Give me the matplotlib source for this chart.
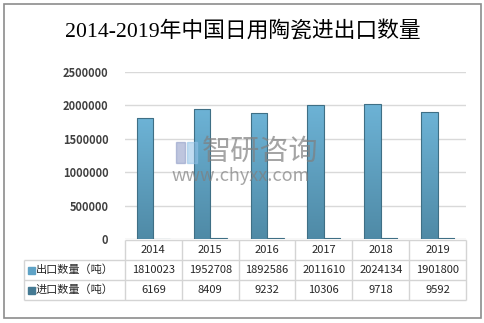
import numpy as np
import matplotlib.pyplot as plt
from matplotlib.patches import Rectangle
from matplotlib.colors import LinearSegmentedColormap

plt.rcParams['font.family'] = ['Noto Sans CJK SC', 'DejaVu Sans']

years = ['2014', '2015', '2016', '2017', '2018', '2019']
export_qty = [1810023, 1952708, 1892586, 2011610, 2024134, 1901800]
import_qty = [6169, 8409, 9232, 10306, 9718, 9592]
series_names = ['出口数量（吨）', '进口数量（吨）']
yticks = [0, 500000, 1000000, 1500000, 2000000, 2500000]

W, H = 485, 323
fig = plt.figure(figsize=(W / 100, H / 100), dpi=100)

# outer frame
fig.patches.append(Rectangle((4 / W, 5 / H), 477 / W, 314 / H, transform=fig.transFigure,
                             fill=False, edgecolor='#8c8c8c', lw=1.2))

fig.text(243 / W, 1 - 31 / H, '2014-2019年中国日用陶瓷进出口数量', ha='center', va='center',
         fontsize=15.7, color='black', family=['Liberation Serif', 'Noto Sans CJK SC'])

x0, x1 = 125, 466
ax = fig.add_axes([x0 / W, 1 - 239 / H, (x1 - x0) / W, (239 - 72) / H])
ax.set_yticks(yticks)
ax.set_yticklabels([str(v) for v in yticks], fontsize=8, color='#404040', fontweight='bold')
ax.tick_params(axis='y', length=0, pad=12)
ax.set_xticks([])
for s in ax.spines.values():
    s.set_visible(False)
ax.grid(axis='y', color='#d9d9d9', lw=1)
ax.set_axisbelow(True)

light = LinearSegmentedColormap.from_list('exp', ['#4f8aa6', '#6db3d6'])
dark = LinearSegmentedColormap.from_list('imp', ['#3c6a80', '#4f89a4'])
grad = np.linspace(0, 1, 256).reshape(-1, 1)

x = np.arange(len(years))
bw = 0.29
bars_e = ax.bar(x - bw / 2, export_qty, bw, color='none', edgecolor='#3f6f85', lw=0.8, zorder=3)
bars_i = ax.bar(x + bw / 2, import_qty, bw, color='none', edgecolor='#3f6f85', lw=0.8, zorder=3)
for bars, cmap in ((bars_e, light), (bars_i, dark)):
    for b in bars:
        bx, by = b.get_x(), b.get_y()
        im = ax.imshow(grad, cmap=cmap, origin='lower', aspect='auto', zorder=2,
                       extent=[bx, bx + b.get_width(), by, by + b.get_height()])
        im.set_clip_path(b)
ax.set_xlim(-0.5, len(years) - 0.5)
ax.set_ylim(0, 2500000)

# watermark
fig.text(202 / W, 1 - 152 / H, '智研咨询', ha='left', va='center', fontsize=21,
         color='#7f7f7f', alpha=0.7, zorder=5)
fig.text(172 / W, 1 - 176 / H, 'www.chyxx.com', ha='left', va='center', fontsize=13,
         color='#7f7f7f', alpha=0.7, zorder=5)
fig.patches.append(Rectangle((176 / W, 1 - 163 / H), 9 / W, 21 / H, transform=fig.transFigure,
                             color='#8a96c4', alpha=0.55, zorder=5))
fig.patches.append(Rectangle((187 / W, 1 - 163 / H), 10 / W, 21 / H, transform=fig.transFigure,
                             color='#8fc0e6', alpha=0.55, zorder=5))

# data table below the plot
tab = fig.add_axes([0, 0, 1, 1], facecolor='none')
tab.set_xlim(0, W)
tab.set_ylim(H, 0)
tab.axis('off')
gc = '#d4d4d4'
col_x = np.linspace(x0, x1, len(years) + 1)
rows_y = [240, 260, 280, 300]
tab.hlines(rows_y[0], x0, x1, color=gc, lw=1)
tab.hlines(rows_y[1:], 24, x1, color=gc, lw=1)
tab.vlines(col_x, rows_y[0], rows_y[-1], color=gc, lw=1)
tab.vlines(24, rows_y[1], rows_y[-1], color=gc, lw=1)
for i, yr in enumerate(years):
    cx = (col_x[i] + col_x[i + 1]) / 2
    tab.text(cx, 250, yr, ha='center', va='center', fontsize=8, color='#262626')
    tab.text(cx, 270, str(export_qty[i]), ha='center', va='center', fontsize=8, color='#262626')
    tab.text(cx, 290, str(import_qty[i]), ha='center', va='center', fontsize=8, color='#262626')
for r, (name, c) in enumerate(zip(series_names, ['#5fa3c6', '#457a93'])):
    cy = 270 + 20 * r
    tab.add_patch(Rectangle((28, cy - 3.5), 7, 7, color=c))
    tab.text(36, cy, name, ha='left', va='center', fontsize=8, color='#262626')

fig.savefig('out.png', dpi=100)
